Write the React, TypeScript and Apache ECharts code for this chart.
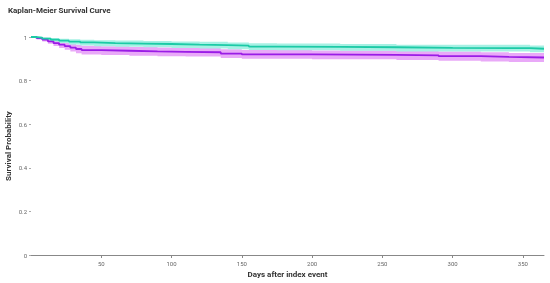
import React, { useEffect, useRef } from "react";
import * as echarts from "echarts";

const tealDays = [0, 3, 8, 14, 20, 27, 35, 45, 60, 80, 100, 120, 140, 155, 175, 220, 260, 300, 355, 365];
const tealSurv = [1.0, 0.997, 0.993, 0.988, 0.983, 0.979, 0.975, 0.972, 0.97, 0.968, 0.965, 0.963, 0.96, 0.956, 0.955, 0.953, 0.95, 0.949, 0.946, 0.946];
const tealLower = [1.0, 0.993, 0.986, 0.979, 0.972, 0.966, 0.961, 0.957, 0.955, 0.953, 0.95, 0.947, 0.944, 0.94, 0.939, 0.937, 0.934, 0.933, 0.93, 0.93];
const tealUpper = [1.0, 1.0, 0.998, 0.995, 0.992, 0.99, 0.987, 0.985, 0.984, 0.982, 0.979, 0.978, 0.975, 0.971, 0.97, 0.968, 0.965, 0.964, 0.961, 0.961];

const purpleDays = [0, 4, 8, 12, 16, 20, 24, 28, 32, 36, 50, 70, 90, 110, 135, 150, 200, 260, 290, 320, 340, 365];
const purpleSurv = [1.0, 0.995, 0.988, 0.98, 0.972, 0.965, 0.958, 0.951, 0.945, 0.94, 0.937, 0.934, 0.932, 0.93, 0.924, 0.92, 0.918, 0.916, 0.912, 0.909, 0.906, 0.906];
const purpleLower = [1.0, 0.989, 0.979, 0.969, 0.959, 0.95, 0.941, 0.933, 0.926, 0.92, 0.917, 0.914, 0.912, 0.91, 0.904, 0.9, 0.898, 0.895, 0.891, 0.888, 0.885, 0.885];
const purpleUpper = [1.0, 1.0, 0.997, 0.991, 0.985, 0.98, 0.975, 0.969, 0.964, 0.96, 0.957, 0.954, 0.952, 0.95, 0.944, 0.94, 0.938, 0.937, 0.933, 0.93, 0.927, 0.927];

const TEAL = "#1ccaa6";
const TEAL_BAND = "#a6f1e4";
const PURPLE = "#9a1ce6";
const PURPLE_BAND = "#e9a9f8";

const pairs = (xs: number[], ys: number[]) => xs.map((x, i) => [x, ys[i]]);

function stepPoints(xs: number[], ys: number[]) {
  const pts: number[][] = [];
  for (let i = 0; i < xs.length; i++) {
    if (i > 0) pts.push([xs[i], ys[i - 1]]);
    pts.push([xs[i], ys[i]]);
  }
  return pts;
}

function bandSeries(xs: number[], lo: number[], hi: number[], color: string) {
  return {
    type: "custom",
    silent: true,
    data: [[xs[0], hi[0]]],
    renderItem: (_params: any, api: any) => {
      const top = stepPoints(xs, hi).map((p) => api.coord(p));
      const bottom = stepPoints(xs, lo).map((p) => api.coord(p)).reverse();
      return {
        type: "polygon",
        shape: { points: top.concat(bottom) },
        style: { fill: color, stroke: null },
      };
    },
  };
}

export default function App() {
  const ref = useRef<HTMLDivElement>(null);
  useEffect(() => {
    if (!ref.current) return;
    const chart = echarts.init(ref.current, undefined, { renderer: "svg" });
    const font = "Roboto";
    chart.setOption({
      animation: false,
      title: {
        text: "Kaplan-Meier Survival Curve",
        left: 3,
        top: 1,
        textStyle: { fontSize: 8, fontWeight: "bold", color: "#333", fontFamily: font },
      },
      grid: { left: 31, right: 6, top: 37, bottom: 28, outerBoundsMode: "none", containLabel: false },
      xAxis: {
        type: "value",
        min: 0,
        max: 365,
        interval: 50,
        name: "Days after index event",
        nameLocation: "middle",
        nameGap: 15,
        nameTextStyle: { fontSize: 8, fontWeight: "bold", color: "#333", fontFamily: font },
        axisLine: { show: true, lineStyle: { color: "#888", width: 1 } },
        axisTick: { show: true, length: 3, lineStyle: { color: "#888" } },
        axisLabel: { fontSize: 6, color: "#666", margin: 5, showMinLabel: false, showMaxLabel: false, fontFamily: font },
        splitLine: { show: false },
      },
      yAxis: {
        type: "value",
        min: 0,
        max: 1,
        interval: 0.2,
        name: "Survival Probability",
        nameLocation: "middle",
        nameGap: 19,
        nameMoveOverlap: false,
        nameTextStyle: { fontSize: 8, fontWeight: "bold", color: "#333", fontFamily: font },
        axisLine: { show: false },
        axisTick: { show: true, length: 2, lineStyle: { color: "#aaa" } },
        axisLabel: { fontSize: 6, color: "#666", margin: 4, fontFamily: font },
        splitLine: { show: false },
      },
      series: [
        bandSeries(purpleDays, purpleLower, purpleUpper, PURPLE_BAND),
        bandSeries(tealDays, tealLower, tealUpper, TEAL_BAND),
        {
          type: "line",
          step: "end",
          symbol: "none",
          data: pairs(purpleDays, purpleSurv),
          lineStyle: { color: PURPLE, width: 1.8 },
        },
        {
          type: "line",
          step: "end",
          symbol: "none",
          data: pairs(tealDays, tealSurv),
          lineStyle: { color: TEAL, width: 1.8 },
        },
      ],
    });
    return () => chart.dispose();
  }, []);
  return <div ref={ref} style={{ position: "fixed", left: 0, top: 0, width: 550, height: 283 }} />;
}
